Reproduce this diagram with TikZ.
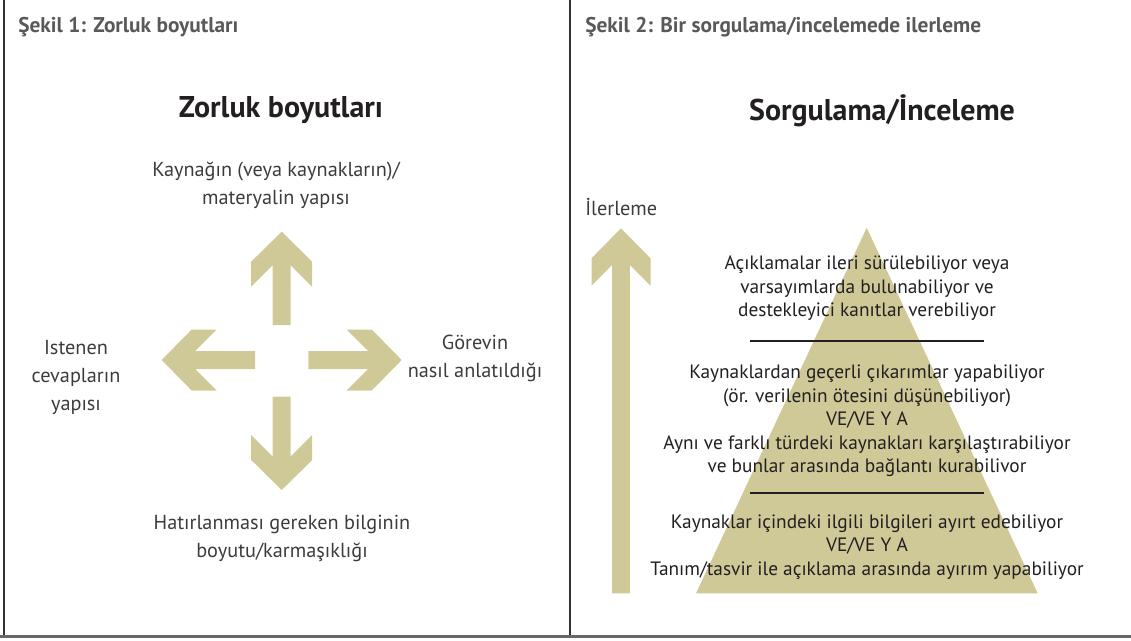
\documentclass[tikz,border=0pt]{standalone}
\usepackage{fontspec}
\setmainfont{PT Sans}
\definecolor{tan}{RGB}{207,201,152}
\definecolor{hdrc}{RGB}{88,89,91}
\definecolor{lblc}{RGB}{60,60,60}
\definecolor{txtc}{RGB}{35,31,32}
\begin{document}
\begin{tikzpicture}[x=0.75pt,y=-0.75pt,
  hdr/.style={font=\fontsize{16}{19}\selectfont\bfseries, text=hdrc, anchor=base west, inner sep=0pt},
  ttl/.style={font=\fontsize{22.5}{27}\selectfont\bfseries, text=txtc, anchor=base, inner sep=0pt},
  lab/.style={font=\fontsize{15.2}{21}\selectfont, text=lblc, align=center, inner sep=0pt},
  plab/.style={font=\fontsize{14.5}{17.6}\selectfont, text=txtc, align=center, inner sep=0pt},
  arrowfill/.style={fill=tan},
  sepline/.style={line width=1.5pt, draw=txtc},
  frame/.style={line width=1.5pt, draw=black!80},
  bottomframe/.style={line width=2.2pt, draw=black!60}
]
\useasboundingbox (0,0) rectangle (1131,640);

% frame
\coordinate (lt) at (4,0);
\coordinate (lb) at (4,636.5);
\coordinate (mt) at (570,0);
\coordinate (mb) at (570,636.5);
\coordinate (bl) at (0,636.5);
\coordinate (br) at (1131,636.5);
\draw[frame] (lt) -- (lb);
\draw[frame] (mt) -- (mb);
\draw[bottomframe] (bl) -- (br);

% headers
\node[hdr] (h1) at (18,32) {Şekil 1: Zorluk boyutları};
\node[hdr] (h2) at (585,32) {Şekil 2: Bir sorgulama/incelemede ilerleme};

% titles
\node[ttl] (t1) at (281,117) {Zorluk boyutları};
\node[ttl] (t2) at (882,120) {Sorgulama/İnceleme};

% four arrows
\foreach \px/\py/\rot in {281.7/231.7/0, 161.7/360/90, 401.7/360/-90, 281.7/490/180}{
  \begin{scope}[shift={(\px,\py)}, rotate=\rot]
    \fill[arrowfill] (0,0) -- (-30.5,30) -- (-30.5,55) -- (-9,33.5) -- (-9,93.3)
      -- (9,93.3) -- (9,33.5) -- (30.5,55) -- (30.5,30) -- cycle;
  \end{scope}
}

% left labels
\node[lab] (ltop) at (276,185) {Kaynağın (veya kaynakların)/\\materyalin yapısı};
\node[lab] (lleft) at (76,377) {Istenen\\cevapların\\yapısı};
\node[lab] (lright) at (475,358) {Görevin\\nasıl anlatıldığı};
\node[lab] (lbot) at (282,538) {Hatırlanması gereken bilginin\\boyutu/karmaşıklığı};

% right panel
\node[lab, anchor=base west] (ilr) at (585,215) {İlerleme};
\begin{scope}[shift={(621,228.3)}]
  \fill[arrowfill] (0,0) -- (-29.5,30) -- (-29.5,57.4) -- (-8.8,36.7) -- (-8.8,365)
    -- (8.8,365) -- (8.8,36.7) -- (29.5,57.4) -- (29.5,30) -- cycle;
\end{scope}
\coordinate (apex) at (866.7,227.7);
\coordinate (bl2) at (696,593.3);
\coordinate (br2) at (1037.7,593.3);
\fill[arrowfill] (apex) -- (bl2) -- (br2) -- cycle;

\coordinate (s1a) at (750,341);
\coordinate (s1b) at (984,341);
\coordinate (s2a) at (750,493.3);
\coordinate (s2b) at (984,493.3);
\draw[sepline] (s1a) -- (s1b);
\draw[sepline] (s2a) -- (s2b);

\node[plab] (p1) at (867,288.5) {Açıklamalar ileri sürülebiliyor veya\\varsayımlarda bulunabiliyor ve\\destekleyici kanıtlar verebiliyor};
\node[plab] (p2) at (867,421) {Kaynaklardan geçerli çıkarımlar yapabiliyor\\(ör. verilenin ötesini düşünebiliyor)\\VE/VE Y A\\Aynı ve farklı türdeki kaynakları karşılaştırabiliyor\\ve bunlar arasında bağlantı kurabilivor};
\node[plab] (p3) at (867,547) {Kaynaklar içindeki ilgili bilgileri ayırt edebiliyor\\VE/VE Y A\\Tanım/tasvir ile açıklama arasında ayırım yapabiliyor};
\end{tikzpicture}
\end{document}
